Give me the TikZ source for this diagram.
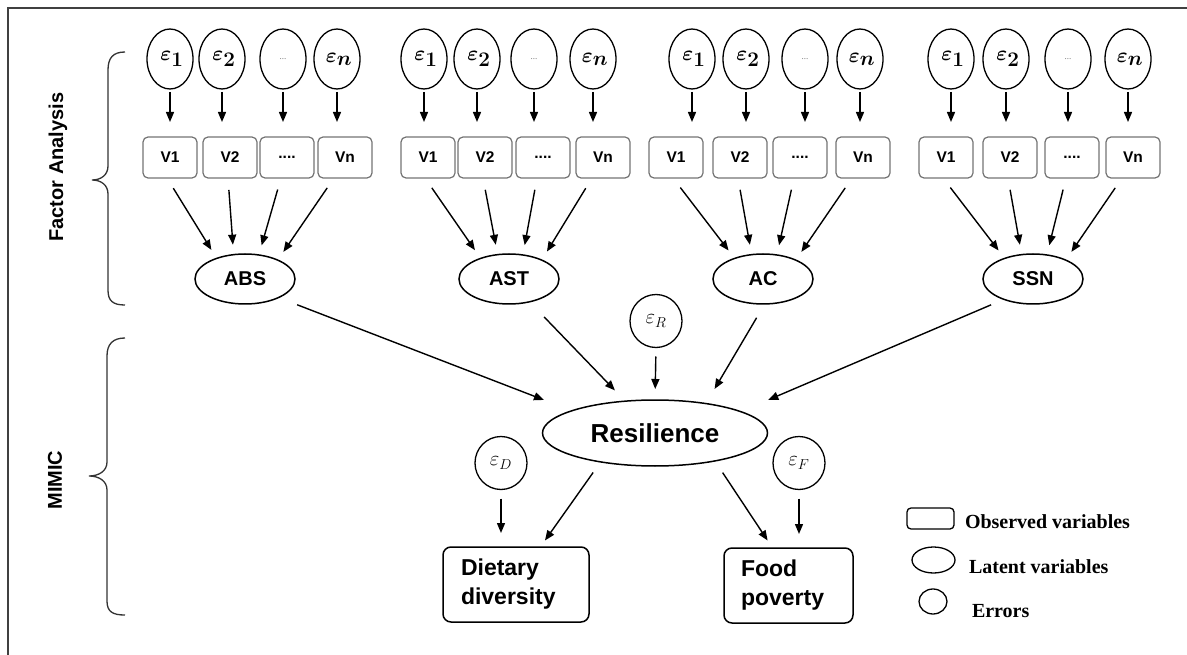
\documentclass[tikz,border=0pt]{standalone}
\usepackage{fontspec}
\setmainfont{Liberation Serif}
\setsansfont{Liberation Sans}
\usetikzlibrary{shapes.geometric,arrows.meta}

\begin{document}
\begin{tikzpicture}[x=1pt,y=-1pt,
  every node/.style={inner sep=0pt, outer sep=0pt},
  err/.style={ellipse, draw, line width=1.3pt, minimum width=46pt, minimum height=60pt,
    font=\fontsize{20.74}{20.74}\selectfont\boldmath},
  serr/.style={ellipse, draw, line width=1.3pt, minimum width=52pt, minimum height=53pt,
    font=\fontsize{20.74}{20.74}\selectfont},
  obs/.style={draw=black!55, line width=1.2pt, rounded corners=5pt,
    minimum width=54pt, minimum height=41pt, font=\sffamily\bfseries\fontsize{15.5}{15.5}\selectfont},
  lat/.style={ellipse, draw, line width=1.5pt, minimum width=100pt, minimum height=50pt,
    font=\sffamily\bfseries\fontsize{20}{20}\selectfont},
  outc/.style={draw, line width=1.5pt, rounded corners=8pt, minimum height=75pt,
    align=left, font=\sffamily\bfseries\fontsize{23}{29}\selectfont},
  arr/.style={-{Triangle[length=10pt,width=8pt]}, line width=1.4pt},
  brace/.style={line width=1.3pt, black!80},
  side/.style={rotate=90, font=\sffamily\bfseries\fontsize{20}{20}\selectfont},
  legend/.style={anchor=base west, font=\bfseries\fontsize{20}{20}\selectfont},
]
\useasboundingbox (0,0) rectangle (1187,655);

% frame
\draw[line width=1.2pt, black!75] (8,655) -- (8,8) -- (1187,8);

% braces and section labels
\draw[brace] (125,52) .. controls (113,52) and (108,58) .. (108,70) -- (108,166)
  .. controls (108,175) and (101,180) .. (92,180)
  .. controls (101,180) and (108,185) .. (108,194) -- (108,290)
  .. controls (108,301) and (113,305) .. (125,305);
\draw[brace] (125,338) .. controls (113,338) and (107,344) .. (107,356) -- (107,462)
  .. controls (107,471) and (99,476) .. (89,476)
  .. controls (99,476) and (107,481) .. (107,490) -- (107,601)
  .. controls (107,612) and (113,615) .. (125,615);
\node[side] (fa) at (58,167) {Factor Analysis};
\node[side] (mimic) at (55,480) {MIMIC};

% four measurement blocks
\foreach \g/\lx/\lab/\ca/\cb/\cc/\cd/\ba/\bb/\bc/\bd in {
  1/245/ABS/170/222/283/337/170/230/287/345,
  2/509/AST/424/477/534/593/428/485/543/603,
  3/763/AC/692/746/805/860/676/740/800/863,
  4/1033/SSN/951/1006/1068/1128/946/1010/1072/1133}{
  \node[lat] (lat\g) at (\lx,279) {\lab};
  \node[err] (e\g-1) at (\ca,59) {$\,\varepsilon_{\textstyle 1}$};
  \node[err] (e\g-2) at (\cb,59) {$\,\varepsilon_{\textstyle 2}$};
  \node[err] (e\g-3) at (\cc,59) {\fontsize{9}{9}\selectfont\color{black!55}...};
  \node[err] (e\g-4) at (\cd,59) {$\,\varepsilon_{\textstyle n}$};
  \node[obs] (v\g-1) at (\ba,157.5) {V1};
  \node[obs] (v\g-2) at (\bb,157.5) {V2};
  \node[obs] (v\g-3) at (\bc,157.5) {....};
  \node[obs] (v\g-4) at (\bd,157.5) {Vn};
  \foreach \k in {1,...,4}
    \draw[arr, shorten <=3pt, shorten >=15pt] (e\g-\k.south) -- (e\g-\k.south |- v\g-\k.north);
  \draw[arr, shorten <=12pt, shorten >=10pt] ([xshift=-3pt]v\g-1.south) -- (lat\g.144);
  \draw[arr, shorten <=12pt, shorten >=10pt] ([xshift=-2pt]v\g-2.south) -- (lat\g.115);
  \draw[arr, shorten <=12pt, shorten >=10pt] ([xshift=-6pt]v\g-3.south) -- (lat\g.60);
  \draw[arr, shorten <=12pt, shorten >=10pt] ([xshift=-11pt]v\g-4.south) -- (lat\g.30);
}

% structural part
\node[lat, minimum width=225pt, minimum height=66pt,
  font=\sffamily\bfseries\fontsize{26}{26}\selectfont] (res) at (655,433) {Resilience};
\node[serr] (er) at (656,321) {$\varepsilon_R$};
\node[serr] (ed) at (501,463) {$\varepsilon_D$};
\node[serr] (ef) at (799,463) {$\varepsilon_F$};
\node[outc, minimum width=146pt, text width=110pt] (dd) at (516,584.5) {Dietary\\diversity};
\node[outc, minimum width=129pt, text width=95pt] (fp) at (788.5,585.5) {Food\\poverty};

\draw[arr, shorten <=20pt, shorten >=30pt] (lat1.-29) -- (res.165);
\draw[arr, shorten <=21pt, shorten >=15pt] (lat2.-48) -- (res.133);
\draw[arr, shorten <=16pt, shorten >=17pt] (lat3.-86) -- (res.30);
\draw[arr, shorten <=14pt, shorten >=30pt] (lat4.-145) -- (res.14);
\draw[arr, shorten <=9pt, shorten >=11pt] (er.south) -- (res.north);
\draw[arr, shorten <=13pt, shorten >=8pt] (res.-152) -- (dd.57);
\draw[arr, shorten <=14pt, shorten >=9pt] (res.-25) -- (fp.113);
\draw[arr, shorten <=9pt, shorten >=14pt] (ed.south) -- (ed.south |- dd.north);
\draw[arr, shorten <=9pt, shorten >=14pt] (ef.south) -- (ef.south |- fp.north);

% legend
\node[draw, line width=1.3pt, rounded corners=4pt, minimum width=47pt, minimum height=21pt]
  (lgobs) at (930.5,518.5) {};
\node[ellipse, draw, line width=1.3pt, minimum width=43pt, minimum height=26pt]
  (lglat) at (933.5,560) {};
\node[ellipse, draw, line width=1.3pt, minimum width=28pt, minimum height=25pt]
  (lgerr) at (933,601.5) {};
\node[legend] (lgobst) at (965,528) {Observed variables};
\node[legend] (lglatt) at (969,573) {Latent variables};
\node[legend] (lgerrt) at (972,617) {Errors};
\end{tikzpicture}
\end{document}
